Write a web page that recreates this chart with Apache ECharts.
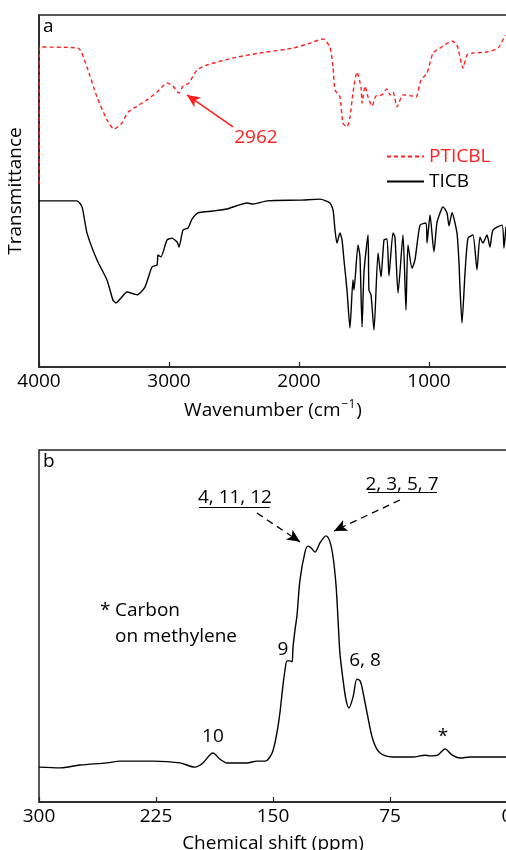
<!DOCTYPE html>
<html>
<head>
<meta charset="utf-8">
<script src="https://cdn.jsdelivr.net/npm/echarts@6/dist/echarts.min.js"></script>
<style>html,body{margin:0;padding:0;background:#fff}#c{width:506px;height:850px}</style>
</head>
<body>
<div id="c"></div>
<script>
// ---------- FTIR (panel a) ----------
const ptiWn = [4000,3996,3700,3631,3554,3477,3423,3362,3315,3246,3169,3092,3015,2969,2923,2892,2846,2785,2708,2508,2300,2046,1915,1815,1762,1738,1723,1685,1662,1631,1608,1585,1554,1523,1515,1492,1469,1438,1408,1362,1323,1300,1277,1246,1200,1131,1100,1062,1015,969,915,823,785,738,708,662,554,469,415];
const ptiT  = [52,90.9,90.6,85.2,76.7,70.2,67.6,69.3,72.4,74.1,75.9,78.1,80.7,79.8,77.8,79.8,80.7,84.4,85.8,87.8,89.2,90.6,92.0,93.2,90.9,85.2,78.7,76.7,69.3,68.2,71.0,77.8,83.8,79.5,75.0,79.8,76.7,74.1,77.0,77.3,79.0,77.3,78.1,73.9,77.3,77.0,76.7,81.5,83.5,89.2,90.6,92.6,91.5,84.9,88.6,89.2,89.5,90.6,94.3];
const ticbWn = [4000,3708,3669,3631,3554,3477,3431,3408,3369,3323,3246,3185,3131,3092,3085,3062,3015,2977,2938,2923,2892,2854,2823,2777,2662,2554,2400,2354,2246,1992,1838,1762,1738,1723,1708,1685,1669,1654,1631,1608,1585,1577,1546,1531,1515,1500,1469,1462,1446,1423,1392,1369,1346,1323,1308,1277,1262,1238,1200,1177,1162,1131,1108,1069,1023,1015,992,962,938,900,892,862,846,823,785,769,762,746,723,700,662,631,608,585,554,531,508,438,423,408];
const ticbT  = [47.2,47.2,45.5,38.1,30.4,24.7,19.0,18.2,19.6,21.3,20.5,22.7,28.4,29.0,31.8,31.3,36.1,36.6,35.5,34.1,38.9,39.5,42.0,43.8,44.3,44.9,46.6,46.3,47.2,47.4,47.7,46.6,44.6,38.9,35.2,38.1,36.1,30.4,21.9,11.1,24.7,21.9,34.7,31.3,11.4,27.0,37.5,21.9,20.5,10.5,32.4,25.6,36.1,36.4,25.9,38.1,36.9,21.0,37.5,16.2,34.7,28.1,30.4,40.3,40.9,35.2,43.2,32.7,41.2,45.2,45.5,43.8,40.1,43.8,38.1,29.5,22.7,12.5,26.7,36.6,37.5,27.6,36.9,35.2,37.5,34.1,38.9,40.3,33.8,39.8];
const ftirTicks = [1000,2000,3000,4000];
const ftirNames = ['PTICBL','TICB'];
// annotation "2962": arrow start/end and label anchor
const ftirArrow = [[2508,68.2],[2862,77.3]];
const ftirLabel = {text:'2962', at:[2331,65.3]};

// ---------- 13C NMR (panel b) ----------
const nmrPpm = [300,286.5,273.7,256.4,248.1,226.9,209.6,200,194.9,188.5,184,179.5,166.7,160.3,155.1,150.6,147.4,145.5,143.6,142.3,141,139.1,137.8,137.2,135.9,134.6,132.7,129.5,127.6,125.6,123.1,119.9,116,113.5,111.5,109.6,108.3,107.1,105.1,103.2,101.3,98.7,96.2,94.2,93,89.7,85.9,81.4,73.1,60.3,52.6,49.4,44.2,39.7,35.3,30.1,23.7,10.9,0];
const nmrInt = [9.9,9.7,10.5,11.1,11.6,11.6,11.1,9.9,11.1,13.9,12.2,11.1,11.1,11.6,11.6,13.9,19.9,25.6,33.2,37.5,40.1,40.1,39.8,43.8,48.9,53.1,63.1,71.0,72.7,72.2,71.0,73.6,75.6,73.9,69.6,61.6,51.7,42.3,34.7,29.0,26.7,29.8,34.9,34.4,32.7,25.3,17.6,13.9,12.8,12.8,13.3,13.1,13.4,15.1,13.4,12.5,12.8,12.8,12.8];
const nmrTicks = [300,225,150,75,0];
const nmrPeakLabels = [
  {text:'9', at:[143.6,43.2]},
  {text:'6, 8', at:[91.0,40.1]},
  {text:'10', at:[188.5,18.5]},
  {text:'*', at:[41.0,18.5]}
];
const nmrGroupLabels = [
  {text:'4, 11, 12', at:[174.4,86.6], underline:[[197.4,83.8],[152.1,83.8]], arrow:[[160.3,82.1],[132.7,73.9]]},
  {text:'2, 3, 5, 7', at:[67.3,90.1], underline:[[89.1,88.1],[44.9,88.1]], arrow:[[68.6,85.8],[110.9,77.0]]}
];
const nmrNote = [
  {text:'*', at:[260.9,54.5]},
  {text:'Carbon', at:[251.3,54.5]},
  {text:'on methylene', at:[251.3,46.9]}
];

const FONT = 'Open Sans';
const FS = 19;
const zip = (a,b) => a.map((v,i)=>[v,b[i]]);

const chart = echarts.init(document.getElementById('c'), null, {renderer:'canvas'});

const axisLine = {show:true, lineStyle:{color:'#222', width:1.5}};
const xBase = (gi, min, max, ticks, name, gap) => ({
  gridIndex: gi, type:'value', min, max, inverse:true,
  axisLine, splitLine:{show:false},
  axisTick:{show:true, inside:true, length:5, lineStyle:{color:'#222',width:1.2}, customValues: ticks},
  axisLabel:{show:true, customValues: ticks, formatter: v => String(v), color:'#000', fontFamily:FONT, fontSize:FS, margin:5, showMinLabel:true, showMaxLabel:true},
  name, nameLocation:'middle', nameGap: gap,
  nameTextStyle:{color:'#000', fontFamily:FONT, fontSize:FS,
    rich:{n:{fontFamily:FONT,fontSize:FS,color:'#000'}, sup:{fontFamily:FONT,fontSize:12,color:'#000',padding:[0,1,12,1]}}}
});
const yBase = (gi, name) => ({
  gridIndex: gi, type:'value', min:0, max:100,
  axisLine, axisTick:{show:false}, axisLabel:{show:false}, splitLine:{show:false},
  name, nameLocation:'middle', nameGap:14, nameRotate:90,
  nameTextStyle:{color:'#000', fontFamily:FONT, fontSize:FS}
});

const labelSeries = (xi, yi, items, color, align) => ({
  type:'scatter', xAxisIndex:xi, yAxisIndex:yi, symbolSize:0, silent:true,
  itemStyle:{opacity:1},
  data: items.map(it=>({value:it.at, name:it.text})),
  label:{show:true, position:'inside', formatter:p=>p.name, color, opacity:1, fontFamily:FONT, fontSize:FS, align: align||'center', verticalAlign:'middle'},
  z:5
});

const gridCommon = {left:39, width:468, height:352, show:true, borderColor:'#222', borderWidth:1.5, backgroundColor:'transparent', containLabel:false, outerBoundsMode:'none'};

const option = {
  animation:false,
  backgroundColor:'#fff',
  textStyle:{fontFamily:FONT},
  grid:[
    Object.assign({top:15}, gridCommon),
    Object.assign({top:450}, gridCommon)
  ],
  xAxis:[
    xBase(0, 400, 4000, ftirTicks, '{n|Wavenumber (cm}{sup|−1}{n|)}', 32),
    xBase(1, 0, 300, nmrTicks, 'Chemical shift (ppm)', 32)
  ],
  yAxis:[ yBase(0,'Transmittance'), yBase(1,'') ],
  legend:{
    orient:'vertical', left:381, top:142, itemWidth:37, itemHeight:14, itemGap:6,
    itemStyle:{opacity:0},
    textStyle:{fontFamily:FONT, fontSize:FS},
    data:[{name:ftirNames[0], textStyle:{color:'#ff1f1f'}},{name:ftirNames[1], textStyle:{color:'#000'}}]
  },
  title:[
    {text:'a', left:43, top:17, padding:0, textStyle:{fontFamily:FONT, fontSize:FS, fontWeight:'normal', color:'#000'}},
    {text:'b', left:43, top:452, padding:0, textStyle:{fontFamily:FONT, fontSize:FS, fontWeight:'normal', color:'#000'}}
  ],
  series:[
    {name:ftirNames[0], type:'line', xAxisIndex:0, yAxisIndex:0, data:zip(ptiWn,ptiT), symbol:'none', smooth:0.2,
      lineStyle:{color:'#ff1f1f', width:1.4, type:[4,3]}, itemStyle:{color:'#ff1f1f'},
      markLine:{silent:true, symbol:['none','arrow'], symbolSize:[9,13], label:{show:false},
        lineStyle:{color:'#ff1f1f', width:1.6, type:'solid'},
        data:[[{coord:ftirArrow[0]},{coord:ftirArrow[1]}]]}
    },
    {name:ftirNames[1], type:'line', xAxisIndex:0, yAxisIndex:0, data:zip(ticbWn,ticbT), symbol:'none', smooth:0.2,
      lineStyle:{color:'#000', width:1.4}, itemStyle:{color:'#000'}},
    labelSeries(0,0,[ftirLabel],'#ff1f1f'),
    {name:'nmr', type:'line', xAxisIndex:1, yAxisIndex:1, data:zip(nmrPpm,nmrInt), symbol:'none', smooth:0.3,
      lineStyle:{color:'#000', width:1.4},
      markLine:{silent:true, label:{show:false},
        data:[].concat(
          nmrGroupLabels.map(g=>[{coord:g.underline[0], symbol:'none', lineStyle:{type:'solid',width:1.2,color:'#000'}},{coord:g.underline[1], symbol:'none'}]),
          nmrGroupLabels.map(g=>[{coord:g.arrow[0], symbol:'none', lineStyle:{type:[7,5],width:1.3,color:'#000'}},{coord:g.arrow[1], symbol:'arrow', symbolSize:[9,13]}])
        )}
    },
    labelSeries(1,1,nmrPeakLabels,'#000'),
    labelSeries(1,1,nmrGroupLabels,'#000'),
    labelSeries(1,1,nmrNote,'#000','left')
  ]
};
chart.setOption(option);
</script>
</body>
</html>
